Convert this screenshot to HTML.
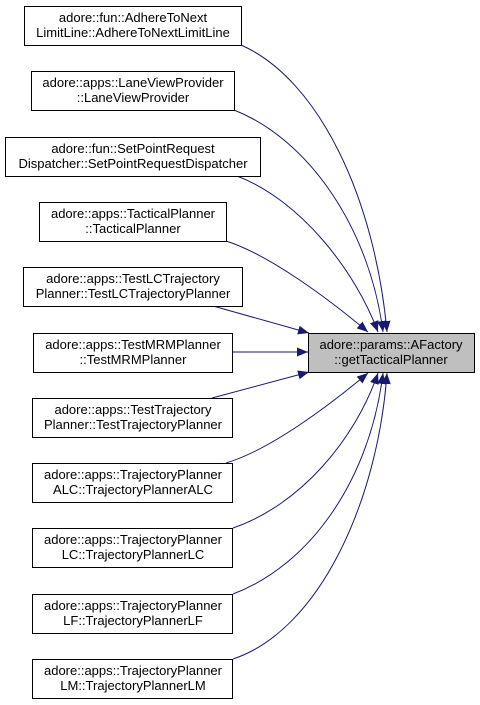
<!DOCTYPE html>
<html><head><meta charset="utf-8"><style>
body{margin:0;background:#fff;}
svg{display:block;}
text{font-family:"Liberation Sans",Arial,sans-serif;font-size:13px;fill:#000;}
</style></head><body>
<svg width="480" height="705" viewBox="0 0 480 705" xmlns="http://www.w3.org/2000/svg">
<defs>
<marker id="a" markerUnits="userSpaceOnUse" markerWidth="12" markerHeight="10" refX="11" refY="4.5" orient="auto">
<polygon points="0,0 11,4.5 0,9" fill="#191970"/>
</marker>
</defs>
<g fill="none" stroke="#191970" stroke-width="1" marker-end="url(#a)">
<path d="M241,45 C320,80 375,200 387,332"/>
<path d="M234,110 C310,140 370,230 383,332"/>
<path d="M237,176 C300,200 355,270 378,332"/>
<path d="M226,241 C270,255 330,300 368,332"/>
<path d="M213,306 L309,333"/>
<path d="M232,352 L308,352"/>
<path d="M212,398 L309,372"/>
<path d="M226,463 C270,450 330,405 368,373"/>
<path d="M233,528 C300,505 355,440 378,373"/>
<path d="M233,594 C310,565 370,480 383,373"/>
<path d="M233,659 C320,630 378,500 387,373"/>
</g>
<g fill="#fff" stroke="#000" stroke-width="1">
<rect x="24.5" y="6.5" width="217" height="39"/>
<rect x="31.5" y="71.5" width="203" height="39"/>
<rect x="5.5" y="137.5" width="255" height="39"/>
<rect x="39.5" y="202.5" width="187" height="39"/>
<rect x="23.5" y="267.5" width="219" height="39"/>
<rect x="33.5" y="333.5" width="199" height="39"/>
<rect x="32.5" y="398.5" width="200" height="39"/>
<rect x="32.5" y="463.5" width="200" height="39"/>
<rect x="32.5" y="528.5" width="200" height="39"/>
<rect x="32.5" y="594.5" width="200" height="39"/>
<rect x="32.5" y="659.5" width="200" height="39"/>
<rect x="308.5" y="333.5" width="166" height="39" fill="#bfbfbf"/>
</g>
<g text-anchor="middle">
<text x="133" y="22">adore::fun::AdhereToNext</text><text x="133" y="37">LimitLine::AdhereToNextLimitLine</text>
<text x="133" y="87">adore::apps::LaneViewProvider</text><text x="133" y="102">::LaneViewProvider</text>
<text x="133" y="153">adore::fun::SetPointRequest</text><text x="133" y="168">Dispatcher::SetPointRequestDispatcher</text>
<text x="133" y="218">adore::apps::TacticalPlanner</text><text x="133" y="233">::TacticalPlanner</text>
<text x="133" y="283">adore::apps::TestLCTrajectory</text><text x="133" y="298">Planner::TestLCTrajectoryPlanner</text>
<text x="133" y="349">adore::apps::TestMRMPlanner</text><text x="133" y="364">::TestMRMPlanner</text>
<text x="133" y="414">adore::apps::TestTrajectory</text><text x="133" y="429">Planner::TestTrajectoryPlanner</text>
<text x="133" y="479">adore::apps::TrajectoryPlanner</text><text x="133" y="494">ALC::TrajectoryPlannerALC</text>
<text x="133" y="544">adore::apps::TrajectoryPlanner</text><text x="133" y="559">LC::TrajectoryPlannerLC</text>
<text x="133" y="610">adore::apps::TrajectoryPlanner</text><text x="133" y="625">LF::TrajectoryPlannerLF</text>
<text x="133" y="675">adore::apps::TrajectoryPlanner</text><text x="133" y="690">LM::TrajectoryPlannerLM</text>
<text x="391" y="349">adore::params::AFactory</text><text x="391" y="364">::getTacticalPlanner</text>
</g>
</svg>
</body></html>
